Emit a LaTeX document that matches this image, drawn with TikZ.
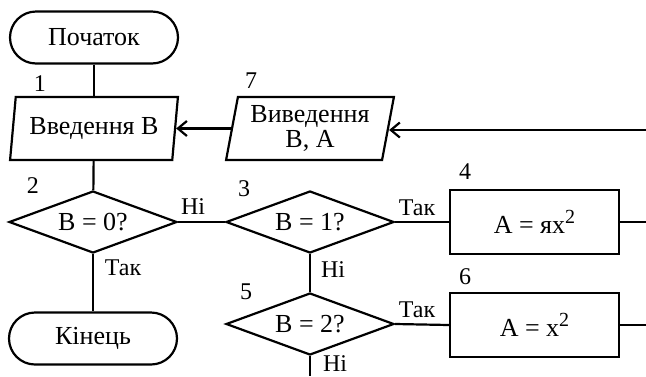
\documentclass[tikz,border=0pt]{standalone}
\usepackage{fontspec}
\setmainfont{Liberation Serif}
\usetikzlibrary{shapes.geometric,arrows.meta}

\newcommand{\sqr}{\raisebox{9.5pt}{\fontsize{20}{20}\selectfont 2}}

\begin{document}
\begin{tikzpicture}[x=1pt,y=-1pt,line width=2.2pt,
  every node/.style={font=\fontsize{26}{25}\selectfont, inner sep=0pt},
  term/.style={draw, rectangle, rounded corners=26pt, minimum width=168pt, minimum height=52pt},
  iobox/.style={draw, trapezium, trapezium left angle=78, trapezium right angle=102,
    trapezium stretches=true, minimum width=168pt, minimum height=63pt, align=center},
  decide/.style={draw, diamond, aspect=2.7, minimum width=168pt, minimum height=62pt},
  proc/.style={draw, rectangle, minimum width=169pt, minimum height=64pt},
  num/.style={font=\fontsize{24}{24}\selectfont},
  tag/.style={font=\fontsize{24}{24}\selectfont},
  arr/.style={-{Straight Barb[length=9pt,width=15pt,line width=2.2pt]}}]

\useasboundingbox (0,0) rectangle (646,376);

% blocks
\node[term]   (start) at (94,37.5)  {Початок};
\node[iobox]  (in1)   at (94,128.5) {Введення B};
\node[iobox]  (out7)  at (310,128.5) {Виведення\\B, A};
\node[decide] (d2)    at (93,222)   {B = 0?};
\node[term]   (stop)  at (93,338.5) {Кінець};
\node[decide] (d3)    at (310,222)  {B = 1?};
\node[proc]   (b4)    at (534.5,222) {A = ях\sqr};
\node[decide] (d5)    at (310,324)  {B = 2?};
\node[proc]   (b6)    at (534.5,325) {A = x\sqr};

% loose ends at the right and bottom margins
\coordinate (ret)  at (646,130);
\coordinate (r4)   at (646,222);
\coordinate (r6)   at (646,325);
\coordinate (down) at (310,376);

% block numbers
\node[num] at (40,84)   {1};
\node[num] at (33,186)  {2};
\node[num] at (244,189) {3};
\node[num] at (465,172) {4};
\node[num] at (246,292) {5};
\node[num] at (465,277) {6};
\node[num] at (251,81)  {7};

% connectors
\draw (start) -- (in1);
\draw (in1) -- (d2);
\draw (d2) -- (stop);
\draw (d2.east) -- (d3.west);
\draw (d3.east) -- (b4.west);
\draw (d3.south) -- (d5.north);
\draw (d5.east) -- (b6.west);
\draw (d5.south) -- (down);
\draw (b4.east) -- (r4);
\draw (b6.east) -- (r6);
\draw[arr] (ret) -- (ret -| out7.east);
\draw[arr] (out7.west |- in1.east) -- (in1.east);

% branch labels
\node[tag] at (193,207) {Ні};
\node[tag] at (123,268) {Так};
\node[tag] at (417,208) {Так};
\node[tag] at (333,270) {Ні};
\node[tag] at (417,310) {Так};
\node[tag] at (335,364) {Ні};
\end{tikzpicture}
\end{document}
